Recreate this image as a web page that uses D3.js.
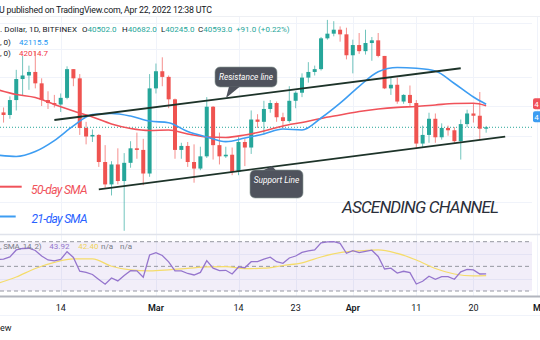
<!DOCTYPE html>
<html><head><meta charset="utf-8">
<script src="https://cdn.jsdelivr.net/npm/d3@7"></script>
<style>
body{margin:0;background:#fff;overflow:hidden}
svg{display:block;font-family:Roboto,"Liberation Sans",sans-serif}
</style></head>
<body><svg id="c" width="540" height="340"></svg>
<script>
// ---------------- DATA ----------------
const candleDates = ["02-05","02-06","02-07","02-08","02-09","02-10","02-11","02-12","02-13","02-14","02-15","02-16","02-17","02-18","02-19","02-20","02-21","02-22","02-23","02-24","02-25","02-26","02-27","02-28",
"03-01","03-02","03-03","03-04","03-05","03-06","03-07","03-08","03-09","03-10","03-11","03-12","03-13","03-14","03-15","03-16","03-17","03-18","03-19","03-20","03-21","03-22","03-23","03-24","03-25","03-26","03-27","03-28","03-29","03-30","03-31",
"04-01","04-02","04-03","04-04","04-05","04-06","04-07","04-08","04-09","04-10","04-11","04-12","04-13","04-14","04-15","04-16","04-17","04-18","04-19","04-20","04-21","04-22"];
const opens  = [41570,41400,42400,43850,44100,44350,43550,42400,42200,42100,42550,44550,43900,40550,40000,40100,38400,37050,38250,37250,38350,39250,39150,37700,
43200,44400,44000,42450,39150,39400,38400,38000,38750,41950,39450,38750,38850,37800,39650,39300,41100,40950,41800,42200,41250,41000,42350,42900,43950,44350,44550,46800,47150,47450,47100,
45550,46300,45850,46450,46650,45500,43200,43450,42300,42750,42200,39550,40100,41150,39950,40550,40400,39700,40800,41500,41350,40502];
const highs  = [41900,42650,44500,45500,44800,45850,43900,43000,42750,42850,44750,44550,44200,40950,40450,40150,39450,38450,39250,38950,39700,40250,39850,44200,
44950,45400,44100,42500,39600,39650,39500,39350,42600,42000,40250,39350,39300,39950,39850,41700,41450,42350,42400,42300,41550,43350,43000,44250,45050,44800,46900,48200,48100,47700,47600,
46700,47200,47450,46900,47200,45500,43950,43950,42800,43400,42400,40700,41550,41500,40850,40700,40600,41100,41750,42150,42950,40682];
const lows   = [40900,41150,41700,42700,43100,43200,42000,41800,41900,41600,42450,43350,40100,39500,39650,38100,36850,36400,37050,34400,38050,38600,37000,37500,
42850,43350,41850,38600,38600,38100,37150,37900,38650,38550,38250,38650,37600,37600,38150,38900,40550,40150,41550,40950,40550,40900,41850,42600,43600,44100,44450,46700,46950,46550,45250,
44250,45650,45600,45150,45400,43150,42750,42150,42150,42000,39250,39300,39600,39600,39800,40050,39600,38550,40600,40900,39800,40245];
const closes = [41400,42400,43850,44100,44350,43550,42400,42200,42100,42550,44550,43900,40550,40000,40100,38400,37050,38250,37250,38350,39250,39150,37700,43200,
44400,44000,42450,39150,39400,38400,38000,38750,41950,39450,38750,38850,37800,39650,39300,41100,40950,41800,42200,41250,41000,42350,42900,43950,44350,44550,46800,47150,47450,47100,45550,
46300,45850,46450,46650,45500,43200,43450,42300,42750,42200,39550,40100,41150,39950,40550,40400,39700,40800,41500,41350,40500,40593];

const smaDates = ["02-04","02-07","02-10","02-13","02-16","02-19","02-22","02-25","02-28","03-03","03-06","03-09","03-12","03-15","03-18","03-21","03-24","03-27","03-30","04-02","04-05","04-08","04-11","04-14","04-17","04-20","04-22"];
const sma21 = [38830,38740,39050,39740,40680,41430,41500,41330,41000,40890,40320,39970,39670,39900,40160,40480,40420,41200,42190,43340,44370,44670,44610,44420,43540,42610,42115.5];
const sma50 = [43120,42780,42570,42100,41660,41270,40810,40515,40385,40420,40160,39970,39940,40100,40350,40680,40910,41170,41400,41630,41800,41910,41970,42070,42170,42180,42014.7];

const rsiDates = ["02-04"].concat(candleDates);
const rsi = [55.6,55.8,57.6,63.3,64.5,64.7,62.9,58.4,55.2,54.4,
55.6,61.9,57.2,46.1,45.1,43.4,39.4,35.5,40.6,38.2,
42.6,46.5,46.3,41.2,59.2,
61.1,58.8,53.6,46.3,46.3,44.2,43.0,45.1,54.6,48.5,
46.5,46.8,43.8,49.5,48.9,53.8,53.8,55.8,57.4,53.8,
52.5,56.8,58.4,61.3,62.5,63.3,69.0,69.8,70.0,68.6,
60.6,
62.7,61.1,62.2,63.1,58.0,47.9,48.5,44.6,46.0,44.9,
35.7,37.9,42.0,39.5,41.6,41.6,39.5,45.5,47.6,47.1,
43.8,43.92];
const rsiSmaDates = smaDates;
const rsiSma = [36.1,41.4,48.3,53.2,56.0,56.0,50.1,47.1,46.3,47.1,48.3,49.5,49.8,48.1,48.5,50.7,52.8,57.6,61.1,62.5,63.3,60.5,55.2,48.3,43.8,42.2,42.40];

const priceGrid = [48000,46000,44000,42000,40000,38000,36000];
const timeTicks = ["02-14","03-01","03-14","03-23","04-01","04-11","04-20"];
const timeTickLabels = ["14","Mar","14","23","Apr","11","20"];
const rsiLevels = [70,50,30];
const rsiGrid = [60,40];
const resistanceLine = [["02-13",41070],["04-18",44612]];
const supportLine = [["02-20",36760],["04-25",39987]];
const lastPrice = 40593;

// ---------------- SCALES ----------------
const D = s => new Date(Date.UTC(2022, +s.slice(0,2)-1, +s.slice(3)));
const x = d3.scaleUtc().domain([D("02-14"), D("04-22")]).range([60.7, 486.15]);
const y = d3.scaleLog().domain([34000, 48000]).range([238.1, 22.5]);
const yr = d3.scaleLinear().domain([30, 70]).range([291, 241.7]);

const UP = "#26a69a", DN = "#ef5350";
const svg = d3.select("#c");

const defs = svg.append("defs");
defs.append("clipPath").attr("id","main").append("rect").attr("x",0).attr("y",17).attr("width",532).attr("height",216);
defs.append("clipPath").attr("id","rsi").append("rect").attr("x",0).attr("y",235).attr("width",532).attr("height",61);

// ---------------- GRID ----------------
const grid = svg.append("g").attr("stroke","#f0f3fa").attr("stroke-width",1);
grid.selectAll("line.h").data(priceGrid).join("line")
  .attr("x1",0).attr("x2",532).attr("y1",d=>Math.round(y(d))+0.5).attr("y2",d=>Math.round(y(d))+0.5);
grid.selectAll("line.v").data(timeTicks).join("line")
  .attr("x1",d=>Math.round(x(D(d)))+0.5).attr("x2",d=>Math.round(x(D(d)))+0.5).attr("y1",17).attr("y2",296);
svg.append("line").attr("x1",537.5).attr("x2",537.5).attr("y1",17).attr("y2",296).attr("stroke","#f0f3fa");
grid.selectAll("line.r").data(rsiGrid).join("line")
  .attr("x1",0).attr("x2",532).attr("y1",d=>Math.round(yr(d))+0.5).attr("y2",d=>Math.round(yr(d))+0.5);
svg.append("line").attr("x1",0).attr("x2",540).attr("y1",16.5).attr("y2",16.5).attr("stroke","#eef0f4");

// ---------------- MAIN PANE ----------------
const main = svg.append("g").attr("clip-path","url(#main)");
main.append("line").attr("x1",0).attr("x2",532).attr("y1",y(lastPrice)).attr("y2",y(lastPrice))
  .attr("stroke",UP).attr("stroke-dasharray","1,2").attr("stroke-width",1);

const candles = candleDates.map((d,i)=>({d:D(d),o:opens[i],h:highs[i],l:lows[i],c:closes[i]}));
const cg = main.append("g");
cg.selectAll("line").data(candles).join("line")
  .attr("x1",d=>x(d.d)).attr("x2",d=>x(d.d)).attr("y1",d=>y(d.h)).attr("y2",d=>y(d.l))
  .attr("stroke",d=>d.c>=d.o?UP:DN).attr("stroke-opacity",0.65).attr("stroke-width",1);
cg.selectAll("rect").data(candles).join("rect")
  .attr("x",d=>x(d.d)-2).attr("width",4)
  .attr("y",d=>y(Math.max(d.o,d.c))).attr("height",d=>Math.max(1,Math.abs(y(d.o)-y(d.c))))
  .attr("fill",d=>d.c>=d.o?UP:DN);

const lineGen = d3.line().x(d=>x(d[0])).y(d=>y(d[1])).curve(d3.curveMonotoneX);
main.append("path").datum(smaDates.map((d,i)=>[D(d),sma50[i]])).attr("d",lineGen)
  .attr("fill","none").attr("stroke","#f0525a").attr("stroke-width",1.6);
main.append("path").datum(smaDates.map((d,i)=>[D(d),sma21[i]])).attr("d",lineGen)
  .attr("fill","none").attr("stroke","#3d9df2").attr("stroke-width",1.6);

const chan = d3.line().x(d=>x(D(d[0]))).y(d=>y(d[1]));
[resistanceLine, supportLine].forEach(l=>{
  main.append("path").attr("d",chan(l)).attr("stroke","#1d3329").attr("stroke-width",1.8).attr("fill","none");
});

function callout(bx,by,bw,bh,tail,text,ty){
  const g = svg.append("g");
  g.append("rect").attr("x",bx).attr("y",by).attr("width",bw).attr("height",bh).attr("rx",5)
    .attr("fill","#4f535d").attr("stroke","#8a9a96").attr("stroke-width",0.6);
  g.append("path").attr("d",`M${tail[0][0]},${tail[0][1]}L${tail[1][0]},${tail[1][1]}L${tail[2][0]},${tail[2][1]}Z`).attr("fill","#4f535d");
  g.append("text").attr("x",bx+bw/2).attr("y",ty).attr("text-anchor","middle")
    .attr("fill","#fff").attr("font-size",8.3).attr("font-style","italic").text(text);
}
callout(215,67,62,20,[[229,86.4],[240,86.4],[226,98]],"Resistance line",80);
callout(250,170,53,28,[[263,170.6],[276,170.6],[272,166]],"Support Line",183);

svg.append("text").attr("x",342).attr("y",213).attr("font-size",17).attr("font-style","italic")
  .attr("fill","#2a2e39").attr("textLength",157).text("ASCENDING CHANNEL");
svg.append("line").attr("x1",0).attr("x2",21.7).attr("y1",186.7).attr("y2",186.7).attr("stroke","#f0525a").attr("stroke-width",2);
svg.append("text").attr("x",31).attr("y",193.5).attr("font-size",12).attr("font-style","italic").attr("fill","#f0525a")
  .attr("textLength",56.5).text("50-day SMA");
svg.append("line").attr("x1",0).attr("x2",15.7).attr("y1",216.5).attr("y2",216.5).attr("stroke","#3d9df2").attr("stroke-width",2);
svg.append("text").attr("x",31.5).attr("y",222.5).attr("font-size",12).attr("font-style","italic").attr("fill","#2962ff")
  .attr("textLength",56).text("21-day SMA");

// right-edge price tags (cut off by the window)
svg.append("rect").attr("x",533).attr("y",98.3).attr("width",20).attr("height",11).attr("rx",2).attr("fill","#f0525a");
svg.append("text").attr("x",534.3).attr("y",106.9).attr("fill","#fff").attr("font-size",8).text("4");
svg.append("rect").attr("x",533).attr("y",111.3).attr("width",20).attr("height",11).attr("rx",2).attr("fill","#3d9df2");
svg.append("text").attr("x",534.3).attr("y",119.9).attr("fill","#fff").attr("font-size",8).text("4");

// ---------------- HEADER ----------------
svg.append("text").attr("x",-1).attr("y",13.3).attr("font-size",8.8).attr("fill","#131722")
  .attr("textLength",213).text("U published on TradingView.com, Apr 22, 2022 12:38 UTC");
const h2 = svg.append("g").attr("font-size",8).attr("fill","#131722");
h2.append("text").attr("x",0).attr("y",32.3).attr("textLength",77).text(". Dollar, 1D, BITFINEX");
[["O","40502.0",82],["H","40682.0",122],["L","40245.0",161],["C","40593.0",198]].forEach(([k,v,px])=>{
  const t = h2.append("text").attr("x",px).attr("y",32.3);
  t.append("tspan").text(k); t.append("tspan").attr("fill",UP).text(v);
});
h2.append("text").attr("x",236).attr("y",32.3).attr("fill",UP).text("+91.0 (+0.22%)");
h2.append("text").attr("x",0).attr("y",44.7).text(", 0)");
h2.append("text").attr("x",19).attr("y",44.7).attr("fill","#2196f3").text("42115.5");
h2.append("text").attr("x",0).attr("y",55.5).text(", 0)");
h2.append("text").attr("x",19).attr("y",55.5).attr("fill","#f23645").text("42014.7");

// ---------------- RSI PANE ----------------
svg.append("line").attr("x1",0).attr("x2",540).attr("y1",234.5).attr("y2",234.5).attr("stroke","#e0e3eb").attr("stroke-width",1.5);
const rp = svg.append("g").attr("clip-path","url(#rsi)");
rp.append("rect").attr("x",0).attr("width",532).attr("y",yr(70)).attr("height",yr(30)-yr(70)).attr("fill","#7e57c2").attr("fill-opacity",0.1);
rp.selectAll("line.lv").data(rsiLevels).join("line")
  .attr("x1",0).attr("x2",532).attr("y1",d=>yr(d)).attr("y2",d=>yr(d))
  .attr("stroke","#9598a1").attr("stroke-dasharray","4,3").attr("stroke-width",1);
rp.append("path").datum(rsiSmaDates.map((d,i)=>[D(d),rsiSma[i]]))
  .attr("d",d3.line().x(d=>x(d[0])).y(d=>yr(d[1])).curve(d3.curveMonotoneX))
  .attr("fill","none").attr("stroke","#f5dc6a").attr("stroke-width",1.2);
rp.append("path").datum(rsiDates.map((d,i)=>[D(d),rsi[i]])).attr("d",d3.line().x(d=>x(d[0])).y(d=>yr(d[1])))
  .attr("fill","none").attr("stroke","#9575cd").attr("stroke-width",1.3);
svg.append("line").attr("x1",0).attr("x2",540).attr("y1",296.5).attr("y2",296.5).attr("stroke","#b2b5be").attr("stroke-width",2);

const rlg = svg.append("g").attr("font-size",8);
rlg.append("text").attr("x",0).attr("y",248.6).attr("fill","#787b86").attr("textLength",41.5).text(", SMA, 14, 2)");
rlg.append("text").attr("x",49.3).attr("y",248.6).attr("fill","#9575cd").text("43.92");
rlg.append("text").attr("x",78.3).attr("y",248.6).attr("fill","#f0d35a").text("42.40");
rlg.append("text").attr("x",101).attr("y",248.6).attr("fill","#787b86").text("n/a");
rlg.append("text").attr("x",120).attr("y",248.6).attr("fill","#787b86").text("n/a");

// ---------------- TIME AXIS ----------------
svg.selectAll("text.tt").data(timeTicks).join("text")
  .attr("x",d=>x(D(d))).attr("y",310.5).attr("text-anchor","middle").attr("font-size",9)
  .attr("fill","#131722").attr("font-weight",(d,i)=>/[A-Z]/.test(timeTickLabels[i])?600:400)
  .text((d,i)=>timeTickLabels[i]);
svg.append("text").attr("x",533).attr("y",310.5).attr("font-size",9).attr("font-weight",600).attr("fill","#131722").text("M");
svg.append("line").attr("x1",0).attr("x2",540).attr("y1",315.5).attr("y2",315.5).attr("stroke","#f0f3fa");
svg.append("text").attr("x",0).attr("y",331).attr("font-size",9).attr("fill","#131722").text("ew");
</script></body></html>
